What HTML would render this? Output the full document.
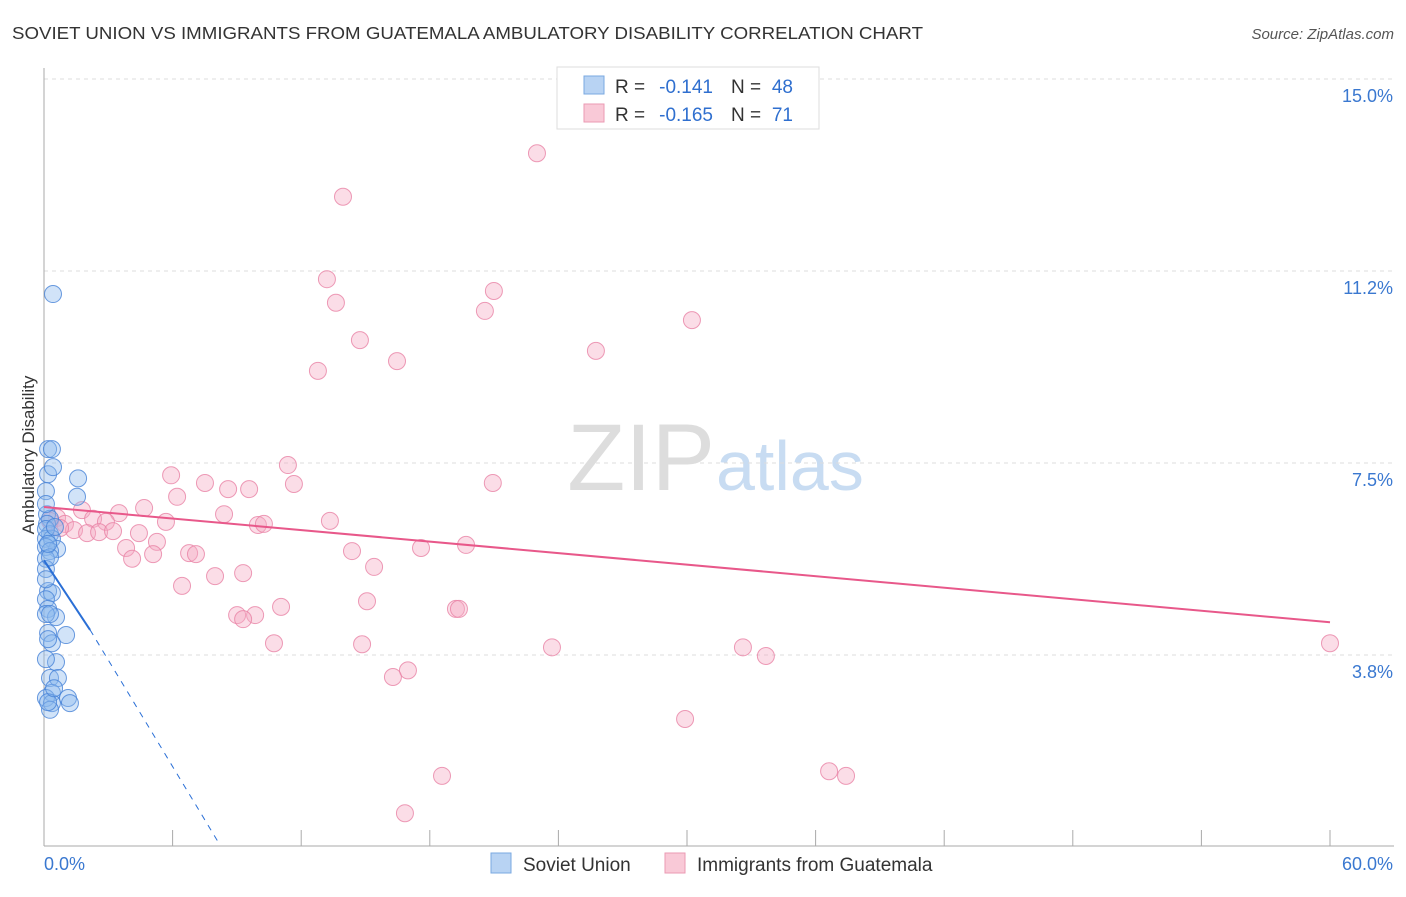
<!DOCTYPE html>
<html><head><meta charset="utf-8"><style>
body{margin:0;background:#fff;font-family:"Liberation Sans",sans-serif}
svg text{font-family:"Liberation Sans",sans-serif}
</style></head><body>
<svg id="c" width="1406" height="892">
<text x="12" y="39" font-size="17.5" fill="#333" textLength="911" lengthAdjust="spacingAndGlyphs">SOVIET UNION VS IMMIGRANTS FROM GUATEMALA AMBULATORY DISABILITY CORRELATION CHART</text>
<text x="1394" y="39" font-size="15" fill="#555" text-anchor="end" font-style="italic">Source: ZipAtlas.com</text>
<text x="715" y="490" font-size="95" fill="#ddd" text-anchor="end" font-family="Liberation Serif">ZIP</text>
<text x="716" y="490" font-size="70" fill="#c8dcf2">atlas</text>
<text x="34" y="455" font-size="17" fill="#333" text-anchor="middle" transform="rotate(-90 34 455)">Ambulatory Disability</text>
<g id="grid"></g><g id="axes"></g><g id="pts"></g><g id="lines"></g>
<g>
<rect x="557" y="67" width="262" height="62" fill="#fff" stroke="#ddd"/>
<rect x="584" y="76" width="20" height="18" fill="#b8d3f3" stroke="#7aa8e0"/>
<rect x="584" y="104" width="20" height="18" fill="#f9c9d7" stroke="#eb9ab3"/>
<text x="615" y="93" font-size="19" fill="#333">R =</text>
<text x="713" y="93" font-size="19" fill="#2f6fcf" text-anchor="end">-0.141</text>
<text x="731" y="93" font-size="19" fill="#333">N =</text>
<text x="793" y="93" font-size="19" fill="#2f6fcf" text-anchor="end">48</text>
<text x="615" y="121" font-size="19" fill="#333">R =</text>
<text x="713" y="121" font-size="19" fill="#2f6fcf" text-anchor="end">-0.165</text>
<text x="731" y="121" font-size="19" fill="#333">N =</text>
<text x="793" y="121" font-size="19" fill="#2f6fcf" text-anchor="end">71</text>
</g>
<g>
<rect x="491" y="853" width="20" height="20" fill="#b8d3f3" stroke="#7aa8e0"/>
<text x="523" y="871" font-size="19" fill="#333">Soviet Union</text>
<rect x="665" y="853" width="20" height="20" fill="#f9c9d7" stroke="#eb9ab3"/>
<text x="697" y="871" font-size="19" fill="#333">Immigrants from Guatemala</text>
</g>
</svg>
<script>
const yTicks=[3.75,7.5,11.25,15];
const yTickLabels=["3.8%","7.5%","11.2%","15.0%"];
const xTickVals=[0,6,12,18,24,30,36,42,48,54,60];
const blueX=[0.42,0.19,0.37,0.19,0.42,1.59,0.09,1.54,0.14,0.28,0.14,0.28,0.09,0.37,0.61,0.09,0.28,0.09,0.19,0.37,0.09,0.19,0.56,0.09,1.03,0.19,0.37,0.56,0.28,0.65,0.37,0.09,0.37,1.12,1.21,0.28,0.19,0.09,0.28,0.09,0.19,0.51,0.09,0.28,0.09,0.19,0.47,0.09];
const blueY=[10.8,7.77,7.77,7.28,7.42,7.2,6.95,6.84,6.5,6.41,6.31,6.11,6.02,6.02,5.82,5.86,5.78,5.63,5.0,4.96,4.84,4.65,4.49,4.55,4.14,4.18,3.98,3.61,3.3,3.3,3.01,2.91,2.81,2.91,2.81,2.68,4.06,5.43,5.66,6.21,5.92,6.25,6.7,4.55,5.23,2.83,3.1,3.67];
const pinkX=[23.0,13.95,13.2,13.62,20.99,20.57,30.23,14.74,25.75,16.47,12.78,5.93,11.38,7.51,6.21,11.66,8.59,9.57,20.94,4.67,3.5,1.77,8.4,5.69,13.34,9.98,10.26,2.29,2.89,0.61,0.98,1.4,0.28,0.75,2.01,2.57,3.22,4.43,5.27,3.83,6.77,7.09,14.37,17.59,19.69,4.11,5.09,15.4,7.98,6.44,9.29,15.07,11.06,9.01,9.85,9.29,19.22,19.36,10.73,14.84,23.7,32.61,33.68,60,16.98,16.28,29.91,18.57,36.63,37.42,16.84];
const pinkY=[13.55,12.7,11.09,10.63,10.86,10.47,10.29,9.9,9.69,9.49,9.3,7.26,7.46,7.11,6.84,7.09,6.99,6.99,7.11,6.62,6.52,6.58,6.5,6.35,6.37,6.29,6.31,6.41,6.35,6.43,6.31,6.19,6.37,6.23,6.13,6.15,6.17,6.13,5.96,5.84,5.74,5.72,5.78,5.84,5.9,5.63,5.72,5.47,5.29,5.1,5.35,4.8,4.69,4.53,4.53,4.45,4.65,4.65,3.98,3.96,3.9,3.9,3.73,3.98,3.45,3.32,2.5,1.39,1.48,1.39,0.66];
const pinkTrend=[[0,6.64],[60,4.39]];
const blueSolid=[[0,5.6],[2.15,4.24]];
const blueDash=[[2.15,4.24],[8.21,0.04]];
const NS="http://www.w3.org/2000/svg";
const X=v=>44+v/60*1286, Y=v=>847-v/3.75*192;
function mk(t,a,p){const e=document.createElementNS(NS,t);for(const k in a)e.setAttribute(k,a[k]);document.getElementById(p).appendChild(e);return e;}
yTicks.forEach((t,i)=>{
 const g=mk('line',{x1:44,x2:1394,y1:Y(t),y2:Y(t),stroke:'#ddd','stroke-dasharray':'4,4'},'grid');
 
 
 const l=mk('text',{x:1393,y:Y(t)+23,'font-size':18,fill:'#3a78d0','text-anchor':'end'},'axes');
 l.textContent=yTickLabels[i];
 
 
});
const ax=mk('line',{x1:44,x2:44,y1:68,y2:846,stroke:'#aaa'},'axes');


const bx=mk('line',{x1:44,x2:1394,y1:846,y2:846,stroke:'#aaa'},'axes');


xTickVals.forEach(v=>{const t=mk('line',{x1:X(v),x2:X(v),y1:830,y2:846,stroke:'#aaa'},'axes');
 
 });
const x0=mk('text',{x:44,y:870,'font-size':18,fill:'#3a78d0'},'axes');x0.textContent='0.0%';


const x1=mk('text',{x:1393,y:870,'font-size':18,fill:'#3a78d0','text-anchor':'end'},'axes');x1.textContent='60.0%';


pinkX.forEach((v,i)=>{const c=mk('circle',{cx:X(v),cy:Y(pinkY[i]),r:8.5,fill:'rgba(246,170,195,0.4)',stroke:'rgba(232,130,165,0.8)','stroke-width':1},'pts');
 
 });
blueX.forEach((v,i)=>{const c=mk('circle',{cx:X(v),cy:Y(blueY[i]),r:8.5,fill:'rgba(140,185,238,0.4)',stroke:'rgba(70,130,215,0.8)','stroke-width':1},'pts');
 
 });
const pl=mk('line',{x1:X(pinkTrend[0][0]),y1:Y(pinkTrend[0][1]),x2:X(pinkTrend[1][0]),y2:Y(pinkTrend[1][1]),stroke:'#e8588a','stroke-width':2},'lines');


const bl=mk('line',{x1:X(blueSolid[0][0]),y1:Y(blueSolid[0][1]),x2:X(blueSolid[1][0]),y2:Y(blueSolid[1][1]),stroke:'#2a6fd6','stroke-width':2},'lines');


const bd=mk('line',{x1:X(blueDash[0][0]),y1:Y(blueDash[0][1]),x2:X(blueDash[1][0]),y2:Y(blueDash[1][1]),stroke:'#2a6fd6','stroke-width':1,'stroke-dasharray':'6,6'},'lines');


</script>
</body></html>
